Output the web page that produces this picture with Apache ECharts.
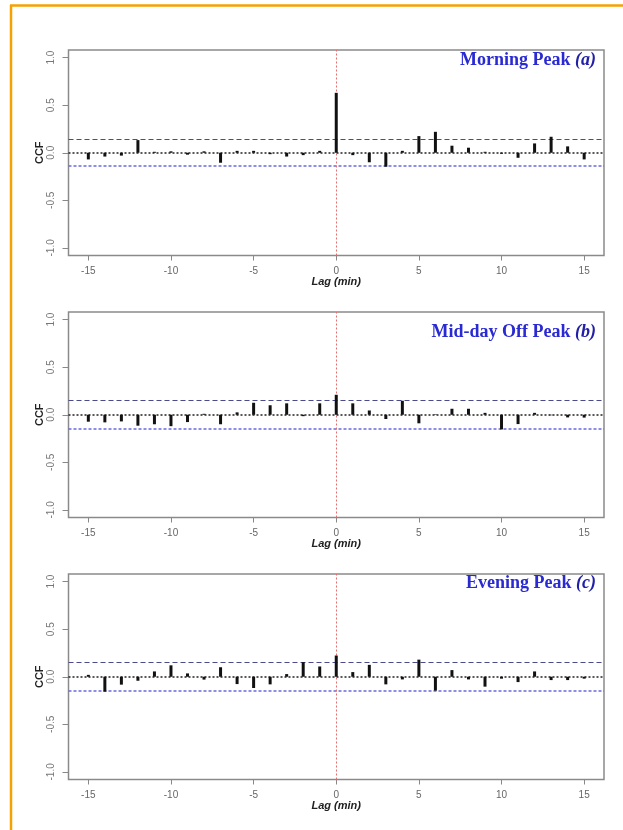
<!DOCTYPE html>
<html>
<head>
<meta charset="utf-8">
<script src="https://cdn.jsdelivr.net/npm/echarts@6/dist/echarts.min.js"></script>
<style>
  html, body { margin: 0; padding: 0; background: #fff; }
  #chart { width: 623px; height: 830px; }
</style>
</head>
<body>
<div id="chart"></div>
<script>
// lags -15..15
const lags = [-15,-14,-13,-12,-11,-10,-9,-8,-7,-6,-5,-4,-3,-2,-1,0,1,2,3,4,5,6,7,8,9,10,11,12,13,14,15];

const morningCCF = [-0.07,-0.04,-0.03,0.133,0.01,0.015,-0.02,0.015,-0.105,0.02,0.02,-0.015,-0.04,-0.025,0.02,
  0.63,-0.025,-0.1,-0.147,0.02,0.175,0.22,0.074,0.053,0.01,-0.01,-0.053,0.098,0.168,0.067,-0.07];
const middayCCF = [-0.073,-0.08,-0.07,-0.115,-0.1,-0.12,-0.077,0.01,-0.1,0.025,0.126,0.1,0.12,-0.015,0.12,
  0.21,0.12,0.045,-0.045,0.147,-0.09,0.005,0.063,0.063,0.02,-0.154,-0.098,0.02,-0.005,-0.028,-0.03];
const eveningCCF = [0.02,-0.157,-0.083,-0.042,0.056,0.12,0.035,-0.03,0.1,-0.077,-0.118,-0.08,0.028,0.153,0.108,
  0.223,0.049,0.125,-0.08,-0.028,0.18,-0.146,0.07,-0.028,-0.104,-0.02,-0.056,0.056,-0.035,-0.035,-0.02];

// confidence bounds (upper, lower)
const morningCI = [0.143, -0.145];
const middayCI = [0.151, -0.154];
const eveningCI = [0.154, -0.151];

const panelTitles = ["Morning Peak ", "Mid-day Off Peak ", "Evening Peak "];
const panelTags = ["(a)", "(b)", "(c)"];
const xTicks = [-15, -10, -5, 0, 5, 10, 15];
const yTicks = [-1, -0.5, 0, 0.5, 1];

const panels = [
  { values: morningCCF, ci: morningCI, top: 50 },
  { values: middayCCF, ci: middayCI, top: 312 },
  { values: eveningCCF, ci: eveningCI, top: 574 },
];
const titleCenters = [62, 334, 585];

const grids = [], xAxes = [], yAxes = [], series = [], titles = [];

panels.forEach((p, i) => {
  grids.push({
    left: 68.5, width: 535.5, top: p.top, height: 205.5,
    show: true, borderColor: "#8a8a8a", borderWidth: 1.5, backgroundColor: "transparent",
  });
  xAxes.push({
    gridIndex: i, type: "value", min: -16.2, max: 16.2, position: "bottom",
    name: "Lag (min)", nameLocation: "middle", nameGap: 21, nameMoveOverlap: false,
    nameTextStyle: { fontFamily: "Liberation Sans", fontSize: 11, fontWeight: "bold", fontStyle: "italic", color: "#222" },
    axisLine: { show: false, onZero: false },
    axisTick: { show: true, length: 5, customValues: xTicks, lineStyle: { color: "#888", width: 1 } },
    axisLabel: { customValues: xTicks, margin: 11, fontFamily: "Liberation Sans", fontSize: 10, color: "#666" },
    splitLine: { show: false },
  });
  yAxes.push({
    gridIndex: i, type: "value", min: -1.08, max: 1.08, position: "left",
    name: "CCF", nameLocation: "middle", nameGap: 23, nameMoveOverlap: false,
    nameTextStyle: { fontFamily: "Liberation Sans", fontSize: 11, fontWeight: "bold", color: "#222" },
    axisLine: { show: false, onZero: false },
    axisTick: { show: true, length: 6, customValues: yTicks, lineStyle: { color: "#888", width: 1 } },
    axisLabel: {
      customValues: yTicks, rotate: 90, margin: 12,
      fontFamily: "Liberation Sans", fontSize: 10, color: "#777",
      formatter: (v) => v.toFixed(1),
    },
    splitLine: { show: false },
  });
  // reference lines drawn under the bars
  series.push({
    type: "line", xAxisIndex: i, yAxisIndex: i, data: [], z: 1, silent: true,
    markLine: {
      silent: true, symbol: "none", label: { show: false }, animation: false,
      data: [
        { yAxis: 0, lineStyle: { color: "#222", type: [2, 2], width: 1.5 } },
        { yAxis: p.ci[0], lineStyle: { color: "#4a4a8c", type: [5, 3], width: 1.2 } },
        { yAxis: p.ci[1], lineStyle: { color: "#6a6ae0", type: [3, 2], width: 1.5 } },
        { xAxis: 0, lineStyle: { color: "#e07070", type: [2, 2], width: 1 } },
      ],
    },
  });
  series.push({
    type: "bar", xAxisIndex: i, yAxisIndex: i, z: 5,
    data: lags.map((l, k) => [l, p.values[k]]),
    barWidth: 3,
    itemStyle: { color: "#111" },
    silent: true,
  });
  titles.push({
    text: "{n|" + panelTitles[i] + "}{t|" + panelTags[i] + "}",
    right: 27, top: titleCenters[i] - 11, padding: 0,
    textStyle: {
      rich: {
        n: { fontFamily: "Liberation Serif", fontSize: 18, color: "#2a2ad2" },
        t: { fontFamily: "Liberation Serif", fontSize: 18, fontWeight: "bold", fontStyle: "italic", color: "#2020a8" },
      },
    },
  });
});

const chart = echarts.init(document.getElementById("chart"), null, { renderer: "canvas" });
chart.setOption({
  animation: false,
  backgroundColor: "#fff",
  title: titles,
  grid: grids,
  xAxis: xAxes,
  yAxis: yAxes,
  series: series,
  graphic: [
    { type: "line", shape: { x1: 10, y1: 5.5, x2: 623, y2: 5.5 }, style: { stroke: "#f5a200", lineWidth: 2.5 } },
    { type: "line", shape: { x1: 11, y1: 5, x2: 11, y2: 830 }, style: { stroke: "#f5a200", lineWidth: 2.5 } },
  ],
});
</script>
</body>
</html>
